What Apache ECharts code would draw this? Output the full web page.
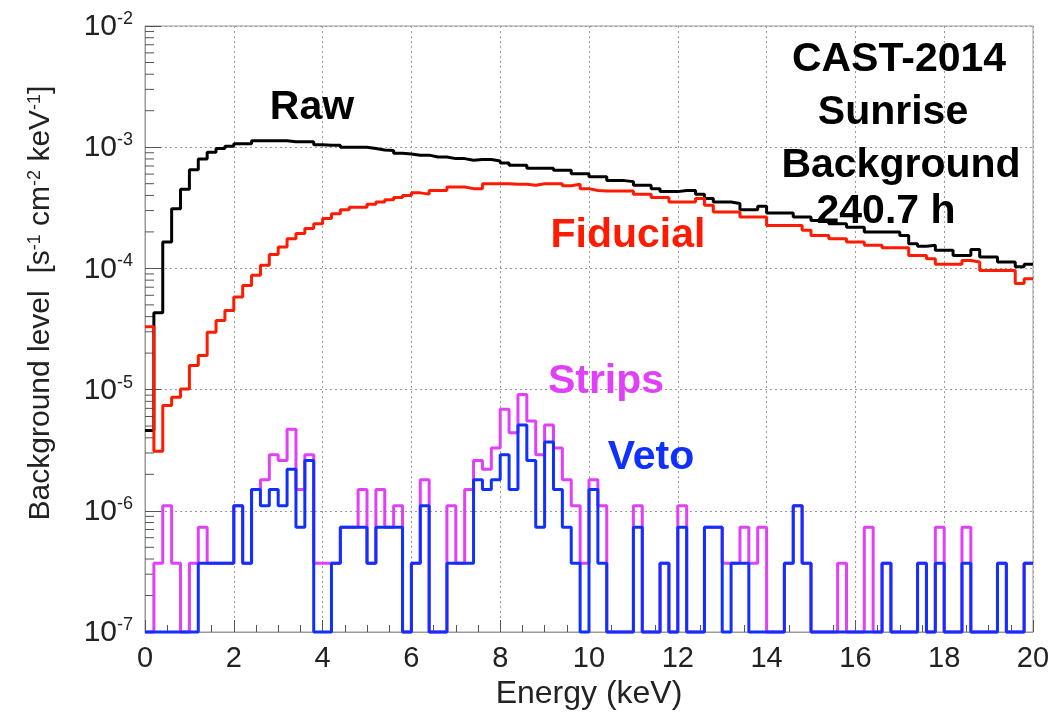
<!DOCTYPE html>
<html>
<head>
<meta charset="utf-8">
<title>CAST-2014 Sunrise background</title>
<script src="https://cdn.jsdelivr.net/npm/echarts@6.0.0/dist/echarts.min.js"></script>
<style>
  html, body { margin: 0; padding: 0; background: #fff; }
  #main { width: 1055px; height: 719px; }
</style>
</head>
<body>
<div id="main"></div>
<script>
// 100 bins of 0.2 keV between 0 and 20 keV
var binWidth = 0.2
var nBins = 100

// background level per bin [s-1 cm-2 keV-1]
var raw = [
  4.6e-6, 4.3e-5, 1.65e-4, 3.1e-4, 4.5e-4, 6.5e-4, 8.0e-4, 9.1e-4, 9.75e-4, 1.02e-3,
  1.07e-3, 1.07e-3, 1.13e-3, 1.13e-3, 1.13e-3, 1.13e-3, 1.11e-3, 1.11e-3, 1.11e-3, 1.05e-3,
  1.04e-3, 1.04e-3, 1.0e-3, 1.0e-3, 1.0e-3, 9.75e-4, 9.5e-4, 9.4e-4, 8.9e-4, 8.8e-4,
  8.6e-4, 8.6e-4, 8.3e-4, 8.3e-4, 8.05e-4, 8.05e-4, 7.8e-4, 7.9e-4, 7.9e-4, 7.7e-4,
  7.4e-4, 7.1e-4, 7.1e-4, 6.7e-4, 6.7e-4, 6.7e-4, 6.45e-4, 6.45e-4, 6.05e-4, 6.05e-4,
  5.7e-4, 5.7e-4, 5.3e-4, 5.3e-4, 5.2e-4, 4.85e-4, 4.85e-4, 4.55e-4, 4.3e-4, 4.3e-4,
  4.4e-4, 4.4e-4, 4.1e-4, 3.77e-4, 3.53e-4, 3.53e-4, 3.43e-4, 3.05e-4, 3.05e-4, 3.25e-4,
  2.87e-4, 2.87e-4, 2.87e-4, 2.65e-4, 2.65e-4, 2.49e-4, 2.49e-4, 2.34e-4, 2.34e-4, 2.19e-4,
  2.19e-4, 2.0e-4, 2.0e-4, 2.0e-4, 2.0e-4, 1.87e-4, 1.6e-4, 1.52e-4, 1.55e-4, 1.41e-4,
  1.41e-4, 1.28e-4, 1.28e-4, 1.43e-4, 1.24e-4, 1.24e-4, 1.13e-4, 1.13e-4, 1.03e-4, 1.08e-4
]

var fiducial = [
  3.3e-5, 3.1e-6, 7.4e-6, 8.65e-6, 1.01e-5, 1.58e-5, 1.91e-5, 2.98e-5, 3.72e-5, 4.5e-5,
  5.8e-5, 7.24e-5, 8.8e-5, 1.06e-4, 1.3e-4, 1.5e-4, 1.76e-4, 1.94e-4, 2.13e-4, 2.34e-4,
  2.58e-4, 2.83e-4, 3.05e-4, 3.2e-4, 3.2e-4, 3.38e-4, 3.53e-4, 3.68e-4, 3.85e-4, 4.0e-4,
  4.2e-4, 4.1e-4, 4.4e-4, 4.4e-4, 4.7e-4, 4.7e-4, 4.55e-4, 4.55e-4, 5.0e-4, 5.0e-4,
  5.0e-4, 4.95e-4, 4.95e-4, 4.85e-4, 5.0e-4, 5.0e-4, 5.0e-4, 4.8e-4, 4.95e-4, 4.55e-4,
  4.4e-4, 4.35e-4, 4.35e-4, 4.35e-4, 4.35e-4, 4.1e-4, 4.1e-4, 3.84e-4, 3.84e-4, 3.53e-4,
  3.53e-4, 3.53e-4, 3.77e-4, 3.32e-4, 2.92e-4, 2.92e-4, 2.92e-4, 2.65e-4, 2.65e-4, 2.65e-4,
  2.26e-4, 2.26e-4, 2.26e-4, 2.26e-4, 2.06e-4, 1.87e-4, 1.87e-4, 1.76e-4, 1.76e-4, 1.65e-4,
  1.65e-4, 1.55e-4, 1.55e-4, 1.48e-4, 1.48e-4, 1.48e-4, 1.28e-4, 1.28e-4, 1.2e-4, 1.08e-4,
  1.08e-4, 1.08e-4, 1.16e-4, 1.13e-4, 9.6e-5, 9.6e-5, 9.6e-5, 9.6e-5, 7.5e-5, 8.2e-5
]

var strips = [
  0, 3.7e-7, 1.1e-6, 3.7e-7, 0, 3.7e-7, 7.3e-7, 3.7e-7, 3.7e-7, 3.7e-7,
  1.1e-6, 3.7e-7, 1.5e-6, 1.8e-6, 2.9e-6, 2.6e-6, 4.7e-6, 1.5e-6, 2.9e-6, 3.7e-7,
  3.7e-7, 3.7e-7, 7.3e-7, 7.3e-7, 1.5e-6, 3.7e-7, 1.5e-6, 7.3e-7, 1.1e-6, 0,
  3.7e-7, 1.8e-6, 0, 0, 1.1e-6, 3.7e-7, 1.5e-6, 2.6e-6, 2.2e-6, 3.3e-6,
  6.9e-6, 4.4e-6, 9.1e-6, 5.5e-6, 2.9e-6, 5.1e-6, 3.3e-6, 1.8e-6, 1.1e-6, 3.7e-7,
  1.8e-6, 1.1e-6, 0, 0, 0, 1.1e-6, 0, 0, 3.7e-7, 0,
  1.1e-6, 0, 0, 7.3e-7, 7.3e-7, 3.7e-7, 3.7e-7, 7.3e-7, 3.7e-7, 7.3e-7,
  0, 0, 3.7e-7, 1.1e-6, 3.7e-7, 0, 0, 0, 3.7e-7, 0,
  0, 7.3e-7, 0, 3.7e-7, 0, 0, 0, 3.7e-7, 0, 7.3e-7,
  0, 0, 7.3e-7, 0, 0, 0, 3.7e-7, 0, 0, 3.7e-7
]

var veto = [
  0, 0, 0, 0, 0, 0, 3.7e-7, 3.7e-7, 3.7e-7, 3.7e-7,
  1.1e-6, 3.7e-7, 1.5e-6, 1.1e-6, 1.5e-6, 1.1e-6, 2.2e-6, 7.3e-7, 2.6e-6, 0,
  0, 3.7e-7, 7.3e-7, 7.3e-7, 7.3e-7, 3.7e-7, 7.3e-7, 7.3e-7, 7.3e-7, 0,
  3.7e-7, 1.1e-6, 0, 0, 3.7e-7, 3.7e-7, 3.7e-7, 1.8e-6, 1.5e-6, 1.8e-6,
  2.9e-6, 1.5e-6, 5.1e-6, 2.6e-6, 7.3e-7, 3.7e-6, 1.5e-6, 7.3e-7, 3.7e-7, 0,
  1.5e-6, 3.7e-7, 0, 0, 0, 7.3e-7, 0, 0, 3.7e-7, 0,
  7.3e-7, 0, 0, 7.3e-7, 7.3e-7, 0, 3.7e-7, 3.7e-7, 0, 0,
  0, 0, 3.7e-7, 1.1e-6, 3.7e-7, 0, 0, 0, 0, 0,
  0, 0, 0, 3.7e-7, 0, 0, 0, 3.7e-7, 0, 3.7e-7,
  0, 0, 3.7e-7, 0, 0, 0, 3.7e-7, 0, 0, 3.7e-7
]

// axis ranges
var xMin = 0, xMax = 20
var yMin = 1e-7, yMax = 1e-2

var font = '"Liberation Sans", Arial, Helvetica, sans-serif'

// histogram -> step line points [lowEdge, value], last point closes the last bin
// empty bins sit on the bottom of the log axis, like ROOT does
function histo(values) {
  var pts = []
  for (var i = 0; i < nBins; i++) {
    pts.push([+(i * binWidth).toFixed(2), Math.max(values[i], yMin)])
  }
  pts.push([xMax, Math.max(values[nBins - 1], yMin)])
  return pts
}

// log minor ticks 2..9 x 10^n
var yMinorTicks = []
for (var e = -7; e < -2; e++) {
  for (var m = 2; m <= 9; m++) yMinorTicks.push([xMin, m * Math.pow(10, e)])
}

function stepSeries(name, values, color, z) {
  return {
    name: name,
    type: 'line',
    step: 'end',
    data: histo(values),
    symbol: 'none',
    clip: false,
    z: z,
    lineStyle: { color: color, width: 3 },
    animation: false
  }
}

function label(text, x, y, color, size) {
  return {
    type: 'text',
    x: x,
    y: y,
    z: 100,
    style: {
      text: text,
      font: 'bold ' + size + 'px ' + font,
      fill: color,
      align: 'center',
      verticalAlign: 'middle'
    }
  }
}

var myChart = echarts.init(document.getElementById('main'))

var option = {
  backgroundColor: '#fff',
  animation: false,
  grid: {
    left: 145, right: 22, top: 26, bottom: 87,
    show: true,
    borderColor: '#9a9a9a',
    borderWidth: 1,
    containLabel: false,
    outerBoundsMode: 'none'
  },
  xAxis: {
    type: 'value',
    min: xMin,
    max: xMax,
    interval: 2,
    name: 'Energy (keV)',
    nameLocation: 'middle',
    nameGap: 45,
    nameTextStyle: { fontFamily: font, fontSize: 32, color: '#222' },
    axisLine: { show: true, lineStyle: { color: '#9a9a9a', width: 1 } },
    axisTick: { show: true, inside: true, length: 12, lineStyle: { color: '#555' } },
    minorTick: { show: true, splitNumber: 4, length: 7, lineStyle: { color: '#555' } },
    axisLabel: { fontFamily: font, fontSize: 29, color: '#222', margin: 12 },
    splitLine: { show: true, lineStyle: { color: '#9a9a9a', type: [2, 3], width: 1 } }
  },
  yAxis: {
    type: 'log',
    logBase: 10,
    min: yMin,
    max: yMax,
    splitNumber: 5,
    axisLine: { show: true, lineStyle: { color: '#9a9a9a', width: 1 } },
    axisTick: { show: true, inside: true, length: 16, lineStyle: { color: '#555' } },
    axisLabel: {
      margin: 12,
      formatter: function (v) {
        var ex = Math.round(Math.log10(v))
        return '{b|10}{e|' + ex + '}'
      },
      rich: {
        b: { fontFamily: font, fontSize: 30, color: '#222', verticalAlign: 'bottom', lineHeight: 32 },
        e: { fontFamily: font, fontSize: 18, color: '#222', verticalAlign: 'top', lineHeight: 18 }
      }
    },
    splitLine: { show: true, lineStyle: { color: '#9a9a9a', type: [2, 3], width: 1 } }
  },
  series: [
    stepSeries('Raw', raw, '#000000', 2),
    stepSeries('Fiducial', fiducial, '#ff1a00', 3),
    stepSeries('Strips', strips, '#e040f8', 4),
    stepSeries('Veto', veto, '#1030ff', 5),
    {
      // minor ticks of the log axis, drawn inside the frame
      type: 'custom',
      silent: true,
      z: 1,
      data: yMinorTicks,
      renderItem: function (params, api) {
        var p = api.coord([api.value(0), api.value(1)])
        return {
          type: 'line',
          shape: { x1: p[0], y1: p[1], x2: p[0] + 9, y2: p[1] },
          style: { stroke: '#555', lineWidth: 1 }
        }
      },
      animation: false
    }
  ],
  graphic: [
    {
      // y axis title, rotated, with superscript units
      type: 'text',
      x: 41,
      y: 303,
      rotation: Math.PI / 2,
      style: {
        text: 'Background level  [s{e|-1} cm{e|-2} keV{e|-1}]',
        font: '30px ' + font,
        fill: '#222',
        align: 'center',
        verticalAlign: 'middle',
        rich: {
          e: { fontFamily: font, fontSize: 18, fill: '#222', verticalAlign: 'top', lineHeight: 18 }
        }
      }
    },
    label('Raw', 312, 108, '#000', 41),
    label('Fiducial', 628, 236, '#ff1a00', 41),
    label('Strips', 606, 382, '#e040f8', 41),
    label('Veto', 651, 458, '#1030ff', 41),
    label('CAST-2014', 899, 60, '#000', 41),
    label('Sunrise', 893, 113, '#000', 41),
    label('Background', 901, 166, '#000', 41),
    label('240.7 h', 886, 212, '#000', 41)
  ]
}

myChart.setOption(option)
</script>
</body>
</html>
